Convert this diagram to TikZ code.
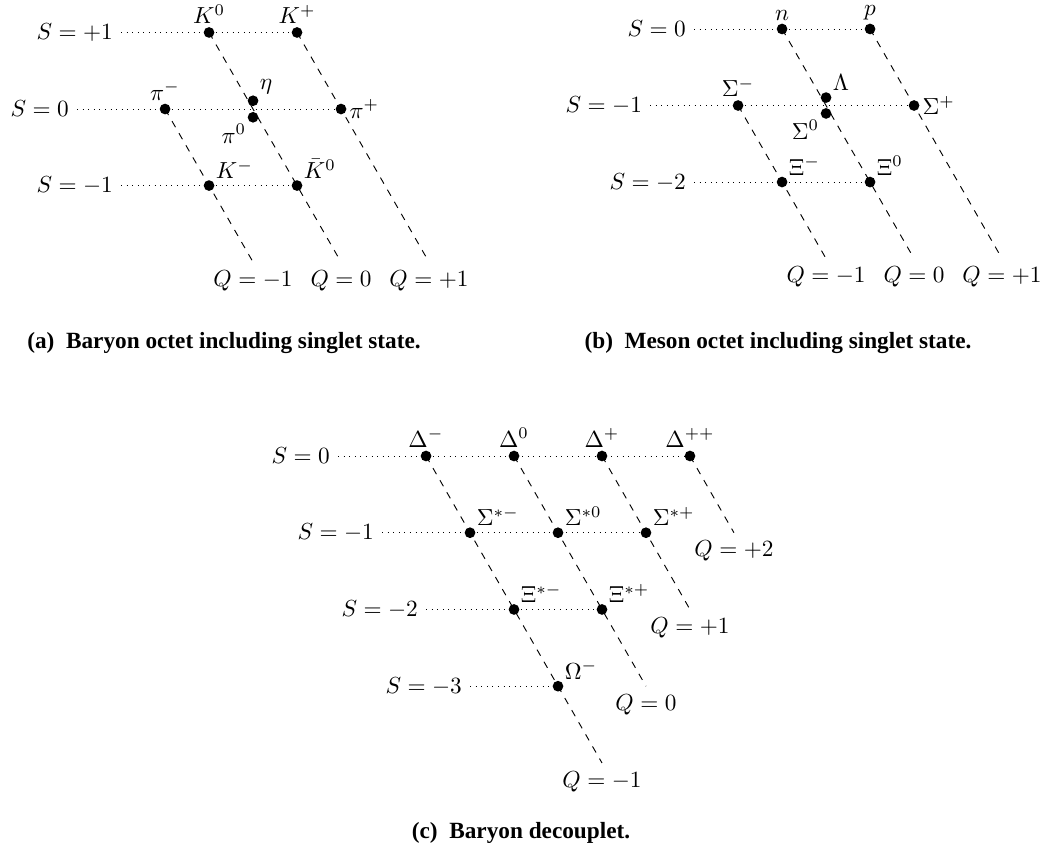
\documentclass[tikz,border=0pt]{standalone}
\usepackage{fontspec}
\newfontfamily\capfont{Liberation Serif}
\usetikzlibrary{positioning,backgrounds}

\begin{document}
\begin{tikzpicture}[
  dot/.style={circle, fill, inner sep=0pt, minimum size=4.6pt},
  qline/.style={dashed},
  sline/.style={dotted},
  captext/.style={anchor=base, font=\capfont\bfseries\fontsize{10pt}{12pt}\selectfont},
  every label/.append style={inner sep=1pt}]
\useasboundingbox (0,0) rectangle (15.812,-12.880);

% (a) octet, lattice in (Q,S)
\begin{scope}[shift={(3.825,-1.648)}, x={(1.330cm,0cm)}, y={(-0.665cm,1.157cm)}]
\node[dot, label=above:$K^0$] (Kz) at (0,1) {};
\node[dot, label=above:$K^+$] (Kp) at (1,1) {};
\node[dot, label=above:$\pi^-$] (pim) at (-1,0) {};
\node[dot, yshift=0.125cm, label=above right:$\eta$] (eta) at (0,0) {};
\node[dot, yshift=-0.125cm, label=below left:$\pi^0$] (piz) at (0,0) {};
\node[dot, label=right:$\pi^+$] (pip) at (1,0) {};
\node[dot, label=above right:$K^-$] (Km) at (-1,-1) {};
\node[dot, label=above right:$\bar{K}^0$] (Kzb) at (0,-1) {};
\coordinate (sa1) at (-1,1);
\coordinate (sa0) at (-2,0);
\coordinate (sam) at (-2,-1);
\coordinate (qam) at (-1,-2);
\coordinate (qaz) at (0,-2);
\coordinate (qap) at (1,-2);
\node[left=0pt of sa1] (Sa1) {$S=+1$};
\node[left=0pt of sa0] (Sa0) {$S=0$};
\node[left=0pt of sam] (Sam) {$S=-1$};
\node[below=0pt of qam] (Qam) {$Q=-1$};
\node[below=0pt of qaz] (Qaz) {$Q=0$};
\node[below=0pt of qap] (Qap) {$Q=+1$};
\begin{scope}[on background layer]
\draw[sline] (sa1) -- (Kp.center);
\draw[sline] (sa0) -- (pip.center);
\draw[sline] (sam) -- (Kzb.center);
\draw[qline] (pim.center) -- (qam);
\draw[qline] (Kz.center) -- (qaz);
\draw[qline] (Kp.center) -- (qap);
\end{scope}
\end{scope}

% (b) octet
\begin{scope}[shift={(11.822,-0.438)}, x={(1.330cm,0cm)}, y={(-0.665cm,1.157cm)}]
\node[dot, label=above:$n$] (n) at (0,0) {};
\node[dot, label=above:$p$] (p) at (1,0) {};
\node[dot, label=above:$\Sigma^-$] (Sm) at (-1,-1) {};
\node[dot, yshift=0.12cm, label=above right:$\Lambda$] (Lam) at (0,-1) {};
\node[dot, yshift=-0.12cm, label=below left:$\Sigma^0$] (Sz) at (0,-1) {};
\node[dot, label=right:$\Sigma^+$] (Sp) at (1,-1) {};
\node[dot, label=above right:$\Xi^-$] (Xm) at (-1,-2) {};
\node[dot, label=above right:$\Xi^0$] (Xz) at (0,-2) {};
\coordinate (sb0) at (-1,0);
\coordinate (sbm) at (-2,-1);
\coordinate (sbmm) at (-2,-2);
\coordinate (qbm) at (-1,-3);
\coordinate (qbz) at (0,-3);
\coordinate (qbp) at (1,-3);
\node[left=0pt of sb0] (Sb0) {$S=0$};
\node[left=0pt of sbm] (Sbm) {$S=-1$};
\node[left=0pt of sbmm] (Sbmm) {$S=-2$};
\node[below=0pt of qbm] (Qbm) {$Q=-1$};
\node[below=0pt of qbz] (Qbz) {$Q=0$};
\node[below=0pt of qbp] (Qbp) {$Q=+1$};
\begin{scope}[on background layer]
\draw[sline] (sb0) -- (p.center);
\draw[sline] (sbm) -- (Sp.center);
\draw[sline] (sbmm) -- (Xz.center);
\draw[qline] (Sm.center) -- (qbm);
\draw[qline] (n.center) -- (qbz);
\draw[qline] (p.center) -- (qbp);
\end{scope}
\end{scope}

% (c) decuplet
\begin{scope}[shift={(7.770,-6.893)}, x={(1.330cm,0cm)}, y={(-0.665cm,1.160cm)}]
\node[dot, label=above:$\Delta^-$] (Dm) at (-1,0) {};
\node[dot, label=above:$\Delta^0$] (Dz) at (0,0) {};
\node[dot, label=above:$\Delta^+$] (Dp) at (1,0) {};
\node[dot, label=above:$\Delta^{++}$] (Dpp) at (2,0) {};
\node[dot, label=above right:$\Sigma^{*-}$] (SSm) at (-1,-1) {};
\node[dot, label=above right:$\Sigma^{*0}$] (SSz) at (0,-1) {};
\node[dot, label=above right:$\Sigma^{*+}$] (SSp) at (1,-1) {};
\node[dot, label=above right:$\Xi^{*-}$] (XXm) at (-1,-2) {};
\node[dot, label=above right:$\Xi^{*+}$] (XXp) at (0,-2) {};
\node[dot, label=above right:$\Omega^-$] (Om) at (-1,-3) {};
\coordinate (sc0) at (-2,0);
\coordinate (sc1) at (-2,-1);
\coordinate (sc2) at (-2,-2);
\coordinate (sc3) at (-2,-3);
\coordinate (qcm) at (-1,-4);
\coordinate (qcz) at (0,-3);
\coordinate (qcp) at (1,-2);
\coordinate (qcpp) at (2,-1);
\node[left=0pt of sc0] (Sc0) {$S=0$};
\node[left=0pt of sc1] (Sc1) {$S=-1$};
\node[left=0pt of sc2] (Sc2) {$S=-2$};
\node[left=0pt of sc3] (Sc3) {$S=-3$};
\node[below=0pt of qcm] (Qcm) {$Q=-1$};
\node[below=0pt of qcz] (Qcz) {$Q=0$};
\node[below=0pt of qcp] (Qcp) {$Q=+1$};
\node[below=0pt of qcpp] (Qcpp) {$Q=+2$};
\begin{scope}[on background layer]
\draw[sline] (sc0) -- (Dpp.center);
\draw[sline] (sc1) -- (SSp.center);
\draw[sline] (sc2) -- (XXp.center);
\draw[sline] (sc3) -- (Om.center);
\draw[qline] (Dm.center) -- (qcm);
\draw[qline] (Dz.center) -- (qcz);
\draw[qline] (Dp.center) -- (qcp);
\draw[qline] (Dpp.center) -- (qcpp);
\end{scope}
\end{scope}

% captions
\node[captext] (capa) at (3.386,-5.261) {(a)\hspace{0.5em}Baryon octet including singlet state.};
\node[captext] (capb) at (11.761,-5.261) {(b)\hspace{0.5em}Meson octet including singlet state.};
\node[captext] (capc) at (7.876,-12.668) {(c)\hspace{0.5em}Baryon decouplet.};
\end{tikzpicture}
\end{document}
